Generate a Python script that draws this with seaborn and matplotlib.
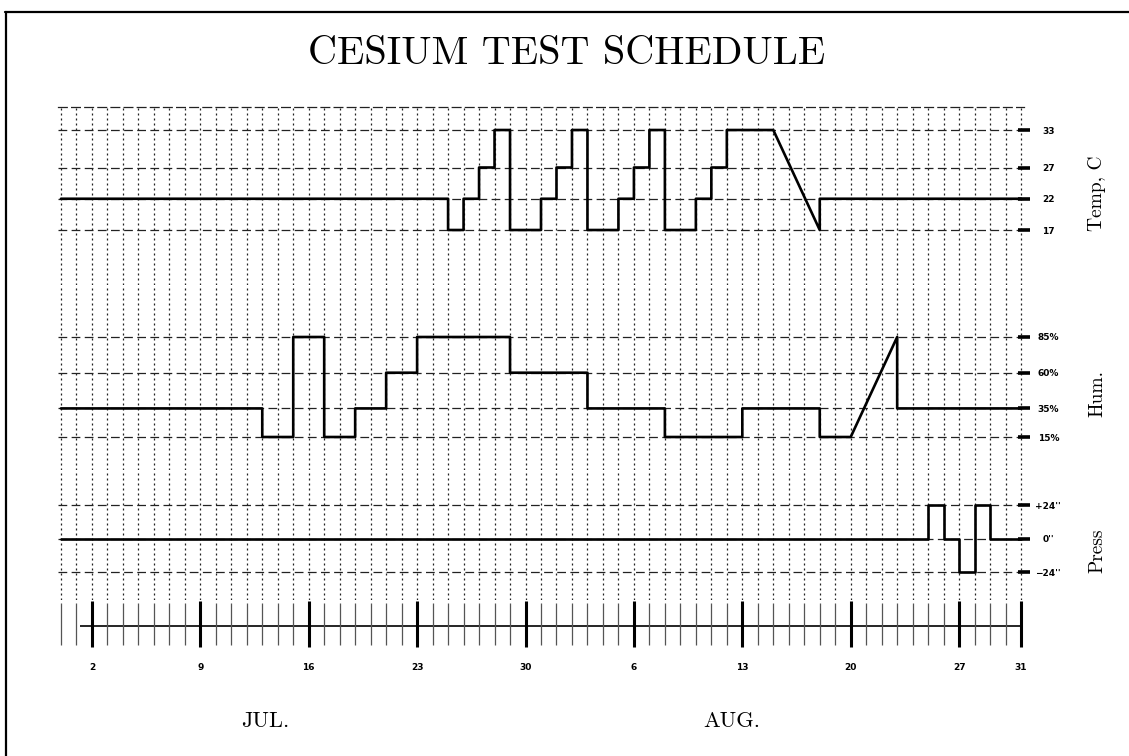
import matplotlib
matplotlib.use("Agg")
import matplotlib.pyplot as plt
import seaborn as sns
import pandas as pd
from matplotlib.lines import Line2D
from matplotlib.transforms import blended_transform_factory

# ---------------- data (day 1 = Jul 1, day 32 = Aug 1) ----------------
temp_days = [0, 25, 25, 26, 26, 27, 27, 28, 28, 29, 29,
             31, 31, 32, 32, 33, 33, 34, 34,
             36, 36, 37, 37, 38, 38, 39, 39,
             41, 41, 42, 42, 43, 43,
             46, 49, 49, 62]
temp_vals = [22, 22, 17, 17, 22, 22, 27, 27, 33, 33, 17,
             17, 22, 22, 27, 27, 33, 33, 17,
             17, 22, 22, 27, 27, 33, 33, 17,
             17, 22, 22, 27, 27, 33,
             33, 17, 22, 22]

hum_days = [0, 13, 13, 15, 15, 17, 17, 19, 19, 21, 21,
            23, 23, 29, 29, 34, 34, 39, 39,
            44, 44, 49, 49, 51, 54, 54, 62]
hum_vals = [35, 35, 15, 15, 85, 85, 15, 15, 35, 35, 60,
            60, 85, 85, 60, 60, 35, 35, 15,
            15, 35, 35, 15, 15, 85, 35, 35]

press_days = [0, 56, 56, 57, 57, 58, 58, 59, 59, 60, 60, 62]
press_vals = [0, 0, 24, 24, 0, 0, -24, -24, 24, 24, 0, 0]

temp_levels = [17, 22, 27, 33]
temp_labels = ["17", "22", "27", "33"]
hum_levels = [15, 35, 60, 85]
hum_labels = ["15%", "35%", "60%", "85%"]
press_levels = [-24, 0, 24]
press_labels = ["\u221224''", "0''", "+24''"]

all_days = list(range(0, 63))
week_days = [2, 9, 16, 23, 30, 37, 44, 51, 58, 62]
week_labels = ["2", "9", "16", "23", "30", "6", "13", "20", "27", "31"]
month_names = ["JUL.", "AUG."]
month_centers = [13.2, 43.3]

title = "CESIUM TEST SCHEDULE"
panel_names = ["Temp, C", "Hum.", "Press"]

# ---------------- style ----------------
sns.set_theme(style="white")
plt.rcParams["font.family"] = ["cmr10", "DejaVu Serif"]
plt.rcParams["axes.formatter.use_mathtext"] = True
plt.rcParams["text.color"] = "black"
plt.rcParams["xtick.color"] = "black"
plt.rcParams["ytick.color"] = "black"

W, H = 1129, 756
fig = plt.figure(figsize=(W / 100, H / 100), dpi=100)
fig.patch.set_facecolor("white")


def ax_at(l, t, r, b):
    return fig.add_axes([l / W, 1 - b / H, (r - l) / W, (b - t) / H])


XLIM = (-0.19, 62.19)
ax_t = ax_at(58, 107, 1024, 285)
ax_h = ax_at(58, 285, 1024, 470)
ax_p = ax_at(58, 470, 1024, 600)
ax_tl = ax_at(58, 601, 1024, 651)

panels = [
    (ax_t, temp_days, temp_vals, temp_levels, temp_labels, (8.2, 36.68)),
    (ax_h, hum_days, hum_vals, hum_levels, hum_labels, (-8.1, 121.4)),
    (ax_p, press_days, press_vals, press_levels, press_labels, (-44.06, 49.1)),
]

tick_font = dict(family="DejaVu Sans", weight="bold", size=6.5, color="black")

for ax, dd, vv, lv, lb, yl in panels:
    ax.set_facecolor("none")
    df = pd.DataFrame({"day": dd, "val": vv})
    sns.lineplot(data=df, x="day", y="val", ax=ax, sort=False, estimator=None,
                 color="black", lw=1.9, zorder=5)
    ax.set_xlim(*XLIM)
    ax.set_ylim(*yl)
    ax.set_xlabel("")
    ax.set_ylabel("")
    for s in ax.spines.values():
        s.set_visible(False)
    ax.set_xticks(all_days)
    ax.set_xticklabels([])
    ax.tick_params(axis="x", length=0)
    ax.xaxis.grid(True, linestyle=(0, (1.6, 2.4)), color="#222222", lw=0.9)
    ax.yaxis.tick_right()
    ax.set_yticks(lv)
    ax.set_yticklabels(lb)
    ax.yaxis.grid(True, linestyle=(0, (7, 3.5)), color="#222222", lw=0.9)
    ax.tick_params(axis="y", which="major", direction="inout", length=9, width=2.6,
                   color="black", pad=13, right=True, left=False)
    for t in ax.get_yticklabels():
        t.set_fontfamily("DejaVu Sans")
        t.set_fontweight("bold")
        t.set_fontsize(6.5)
        t.set_color("black")
        t.set_horizontalalignment("center")

# top dashed boundary of the grid
ax_t.spines["top"].set_visible(True)
ax_t.spines["top"].set_linestyle((0, (7, 3.5)))
ax_t.spines["top"].set_linewidth(0.9)
ax_t.spines["top"].set_color("#222222")

# ---------------- timeline row ----------------
ax_tl.set_facecolor("none")
ax_tl.set_xlim(*XLIM)
ax_tl.set_ylim(-1, 1)
for s in ax_tl.spines.values():
    s.set_visible(False)
ax_tl.hlines(0, 1.2, 62, color="black", lw=1.2)
ax_tl.vlines(all_days, -0.76, 0.92, color="#555555", lw=0.9)
ax_tl.vlines(week_days, -0.84, 1.0, color="black", lw=2.2)
ax_tl.set_yticks([])
ax_tl.set_xticks(week_days)
ax_tl.set_xticklabels(week_labels, **tick_font)
ax_tl.tick_params(axis="x", length=0, pad=9)

trans = blended_transform_factory(ax_tl.transData, fig.transFigure)
for name, c in zip(month_names, month_centers):
    ax_tl.text(c, 1 - 721 / H, name, transform=trans, ha="center", va="center",
               fontsize=16, family="cmr10", color="black")

# ---------------- titles ----------------
fig.text(567 / W, 1 - 54 / H, title, ha="center", va="center",
         fontsize=29, family="cmr10", color="black")
for name, yc in zip(panel_names, [193, 393, 551]):
    fig.text(1097 / W, 1 - yc / H, name, rotation=90, ha="center", va="center",
             fontsize=14, family="cmr10", color="black")

# frame lines of the sheet
fig.add_artist(Line2D([5 / W, 1], [1 - 12 / H, 1 - 12 / H],
                      transform=fig.transFigure, color="black", lw=1.6))
fig.add_artist(Line2D([6 / W, 6 / W], [1 - 12 / H, 0],
                      transform=fig.transFigure, color="black", lw=1.6))

fig.savefig("out.png", dpi=100, facecolor="white")
